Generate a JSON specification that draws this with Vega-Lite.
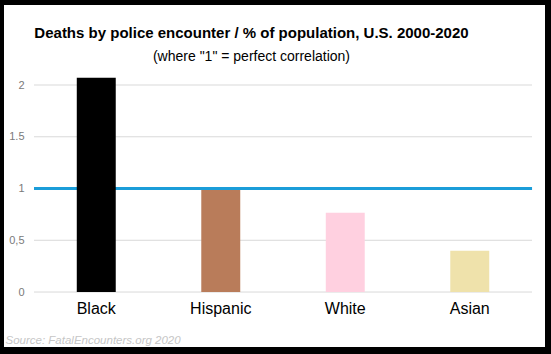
{
  "$schema": "https://vega.github.io/schema/vega-lite/v6.json",
  "width": 541,
  "height": 342,
  "autosize": {"type": "none"},
  "padding": {"left": 4, "top": 5, "right": 6, "bottom": 7},
  "background": "black",
  "config": {
    "view": {"fill": "white", "stroke": null},
    "font": "Liberation Sans"
  },
  "title": {
    "text": "Deaths by police encounter / % of population, U.S. 2000-2020",
    "subtitle": "(where \"1\" = perfect correlation)",
    "fontSize": 15,
    "fontWeight": "bold",
    "color": "black",
    "subtitleFontSize": 14,
    "subtitleColor": "black",
    "subtitlePadding": 9,
    "anchor": "middle",
    "frame": "group",
    "dx": -23,
    "offset": -59
  },
  "datasets": {
    "bars": [
      {"group": "Black", "ratio": 2.07},
      {"group": "Hispanic", "ratio": 0.985},
      {"group": "White", "ratio": 0.765},
      {"group": "Asian", "ratio": 0.40}
    ],
    "ticks": [
      {"tick": 0}, {"tick": 0.5}, {"tick": 1}, {"tick": 1.5}, {"tick": 2}
    ]
  },
  "layer": [
    {
      "data": {"name": "ticks"},
      "mark": {"type": "rule", "color": "#d9d9d9", "strokeWidth": 1},
      "encoding": {
        "x": {"datum": "Black", "type": "nominal", "bandPosition": 0},
        "x2": {"datum": "Asian", "bandPosition": 1},
        "y": {"field": "tick", "type": "quantitative"}
      }
    },
    {
      "data": {"name": "bars"},
      "mark": {"type": "rule", "color": "#1b9dd9", "strokeWidth": 3},
      "encoding": {
        "x": {"datum": "Black", "type": "nominal", "bandPosition": 0},
        "x2": {"datum": "Asian", "bandPosition": 1},
        "y": {"datum": 1, "type": "quantitative"}
      }
    },
    {
      "data": {"name": "bars"},
      "mark": {"type": "bar", "width": {"band": 0.313}},
      "encoding": {
        "x": {
          "field": "group",
          "type": "nominal",
          "sort": ["Black", "Hispanic", "White", "Asian"],
          "scale": {"paddingInner": 0, "paddingOuter": 0.1727, "align": 0.698},
          "axis": {
            "orient": "bottom",
            "offset": -34,
            "labelPadding": 0,
            "labelAlign": "center",
            "labelBaseline": "alphabetic",
            "labelAngle": 0,
            "labelFontSize": 16,
            "labelColor": "black",
            "labelFont": "Liberation Sans",
            "ticks": false,
            "domain": false,
            "grid": false,
            "title": "Source: FatalEncounters.org 2020",
            "titleFontStyle": "italic",
            "titleFontWeight": "normal",
            "titleColor": "#c6c6c6",
            "titleFontSize": 11.5,
            "titleAnchor": "start",
            "titleAlign": "left",
            "titleBaseline": "alphabetic",
            "titleX": 1,
            "titleY": 30
          }
        },
        "y": {
          "field": "ratio",
          "type": "quantitative",
          "stack": null,
          "scale": {"domain": [-0.531, 2.773], "nice": false, "zero": false},
          "axis": {
            "orient": "left",
            "offset": -20,
            "labelPadding": 0,
            "values": [0, 0.5, 1, 1.5, 2],
            "labelExpr": "datum.value === 0.5 ? '0,5' : format(datum.value, '~g')",
            "labelFontSize": 11,
            "labelColor": "#7a7a7a",
            "ticks": false,
            "domain": false,
            "grid": false,
            "title": null
          }
        },
        "y2": {"datum": 0},
        "color": {
          "field": "group",
          "type": "nominal",
          "scale": {
            "domain": ["Black", "Hispanic", "White", "Asian"],
            "range": ["#000000", "#b97c5a", "#ffd0e0", "#efe2ab"]
          },
          "legend": null
        }
      }
    }
  ]
}
